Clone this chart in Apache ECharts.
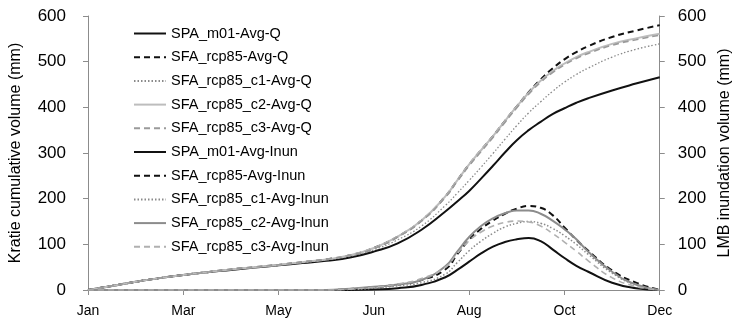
<!DOCTYPE html>
<html>
<head>
<meta charset="utf-8">
<script src="https://cdn.jsdelivr.net/npm/echarts@6/dist/echarts.min.js"></script>
<style>
  html, body { margin: 0; padding: 0; background: #fff; }
  #chart { width: 741px; height: 320px; }
</style>
</head>
<body>
<div id="chart"></div>
<script>
// x positions in tick units (0 = Jan ... 6 = Dec); finer steps through the flood season
const xPos = [0, 0.25, 0.5, 0.75, 1, 1.25, 1.5, 1.75, 2, 2.25, 2.5, 2.75, 3,
  3.25, 3.5, 3.75, 3.875, 4, 4.125, 4.25, 4.375, 4.5, 4.625, 4.75, 4.875, 5,
  5.125, 5.25, 5.5, 5.75, 6];
const tickLabels = ['Jan', 'Mar', 'May', 'Jun', 'Aug', 'Oct', 'Dec'];

// cumulative discharge at Kratie (mm)
const spaQ    = [0, 9, 18, 26, 33, 39, 44, 49, 54, 59, 64, 71, 84, 102, 132, 172, 194, 217, 244, 272, 301, 328, 350, 368, 385, 398, 410, 420, 437, 452, 466];
const rcpQ    = [0, 9, 18, 26, 33, 39, 45, 50, 55, 61, 67, 76, 92, 117, 152, 205, 240, 275, 306, 337, 370, 402, 433, 461, 485, 505, 521, 534, 554, 568, 580];
const rcpC1Q  = [0, 9, 18, 26, 33, 39, 45, 50, 55, 60, 66, 74, 88, 110, 140, 185, 212, 240, 269, 299, 330, 360, 388, 412, 435, 455, 472, 486, 510, 527, 539];
const rcpC2Q  = [0, 9, 18, 26, 33, 39, 45, 50, 55, 61, 67, 76, 92, 117, 152, 205, 240, 275, 306, 337, 370, 402, 432, 458, 479, 496, 510, 521, 539, 551, 561];
const rcpC3Q  = [0, 9, 18, 26, 33, 39, 45, 50, 55, 61, 67, 76, 91, 116, 151, 203, 238, 272, 303, 334, 367, 399, 429, 455, 476, 493, 507, 518, 536, 548, 558];

// LMB inundation volume (mm)
const spaInun   = [0, 0, 0, 0, 0, 0, 0, 0, 0, 0, 0, 0, 1, 4, 11, 28, 44, 62, 80, 95, 105, 111, 114, 107, 89, 70, 53, 40, 16, 4, 0];
const rcpInun   = [0, 0, 0, 0, 0, 0, 0, 0, 0, 0, 0, 2, 6, 12, 22, 45, 78, 110, 134, 152, 167, 178, 184, 180, 164, 137, 110, 86, 43, 16, 0];
const rcpC1Inun = [0, 0, 0, 0, 0, 0, 0, 0, 0, 0, 0, 1, 4, 9, 16, 35, 60, 86, 107, 124, 138, 146, 150, 146, 135, 119, 100, 78, 37, 11, 0];
const rcpC2Inun = [0, 0, 0, 0, 0, 0, 0, 0, 0, 0, 0, 3, 7, 12, 22, 52, 84, 116, 140, 157, 168, 174, 174, 167, 152, 133, 111, 84, 40, 12, 0];
const rcpC3Inun = [0, 0, 0, 0, 0, 0, 0, 0, 0, 0, 0, 2, 6, 13, 25, 50, 80, 108, 127, 140, 148, 151, 149, 140, 124, 105, 85, 64, 27, 8, 0];

const FONT = "'Liberation Sans', Arial, sans-serif";

function pairs(ys) {
  return ys.map((y, i) => [xPos[i], y]);
}

function line(name, ys, axis, color, type, width) {
  return {
    name: name,
    type: 'line',
    yAxisIndex: axis,
    data: pairs(ys),
    symbol: 'none',
    smooth: 0.5,
    lineStyle: {color: color, type: type, width: width},
    itemStyle: {color: color},
    animation: false
  };
}

const series = [
  line('SPA_m01-Avg-Q', spaQ, 0, '#111', 'solid', 2),
  line('SFA_rcp85-Avg-Q', rcpQ, 0, '#111', [6, 4], 2),
  line('SFA_rcp85_c1-Avg-Q', rcpC1Q, 0, '#8a8a8a', [1.5, 2], 1.3),
  line('SFA_rcp85_c2-Avg-Q', rcpC2Q, 0, '#bdbdbd', 'solid', 2),
  line('SFA_rcp85_c3-Avg-Q', rcpC3Q, 0, '#9a9a9a', [6, 4], 1.6),
  line('SPA_m01-Avg-Inun', spaInun, 1, '#111', 'solid', 2),
  line('SFA_rcp85-Avg-Inun', rcpInun, 1, '#111', [6, 4], 2),
  line('SFA_rcp85_c1-Avg-Inun', rcpC1Inun, 1, '#8a8a8a', [1.5, 2], 1.5),
  line('SFA_rcp85_c2-Avg-Inun', rcpC2Inun, 1, '#8c8c8c', 'solid', 2),
  line('SFA_rcp85_c3-Avg-Inun', rcpC3Inun, 1, '#b0b0b0', [6, 4], 1.6)
];

const axisGrey = '#8c8c8c';

function yAxis(name, pos, gap, margin) {
  return {
    type: 'value',
    position: pos,
    min: 0,
    max: 600,
    interval: 100,
    name: name,
    nameLocation: 'middle',
    nameGap: gap,
    nameRotate: 90,
    nameTextStyle: {color: '#000', fontSize: 16, fontFamily: FONT},
    axisLine: {show: true, lineStyle: {color: axisGrey, width: 1}},
    axisTick: {show: true, length: 5, lineStyle: {color: axisGrey}},
    axisLabel: {color: '#000', fontSize: 17, fontFamily: FONT, margin: margin},
    splitLine: {show: false}
  };
}

const chart = echarts.init(document.getElementById('chart'), null, {renderer: 'canvas'});
chart.setOption({
  backgroundColor: '#fff',
  animation: false,
  grid: {left: 88, right: 71, top: 16, bottom: 30},
  legend: {
    orient: 'vertical',
    left: 133,
    top: 26,
    padding: 0,
    itemWidth: 32,
    itemHeight: 14,
    itemGap: 8.7,
    itemStyle: {opacity: 0},
    textStyle: {color: '#000', fontSize: 14.5, fontFamily: FONT},
    data: series.map(s => s.name)
  },
  xAxis: {
    type: 'value',
    min: 0,
    max: 6,
    interval: 1,
    axisLine: {show: true, lineStyle: {color: axisGrey, width: 1}},
    axisTick: {show: true, length: 5, lineStyle: {color: axisGrey}},
    axisLabel: {
      color: '#000',
      fontSize: 14,
      fontFamily: FONT,
      margin: 14,
      formatter: v => tickLabels[Math.round(v)] || ''
    },
    splitLine: {show: false}
  },
  yAxis: [
    yAxis('Kratie cumulative volume (mm)', 'left', 64, 22),
    yAxis('LMB inundation volume (mm)', 'right', 56, 18)
  ],
  series: series
});
</script>
</body>
</html>
